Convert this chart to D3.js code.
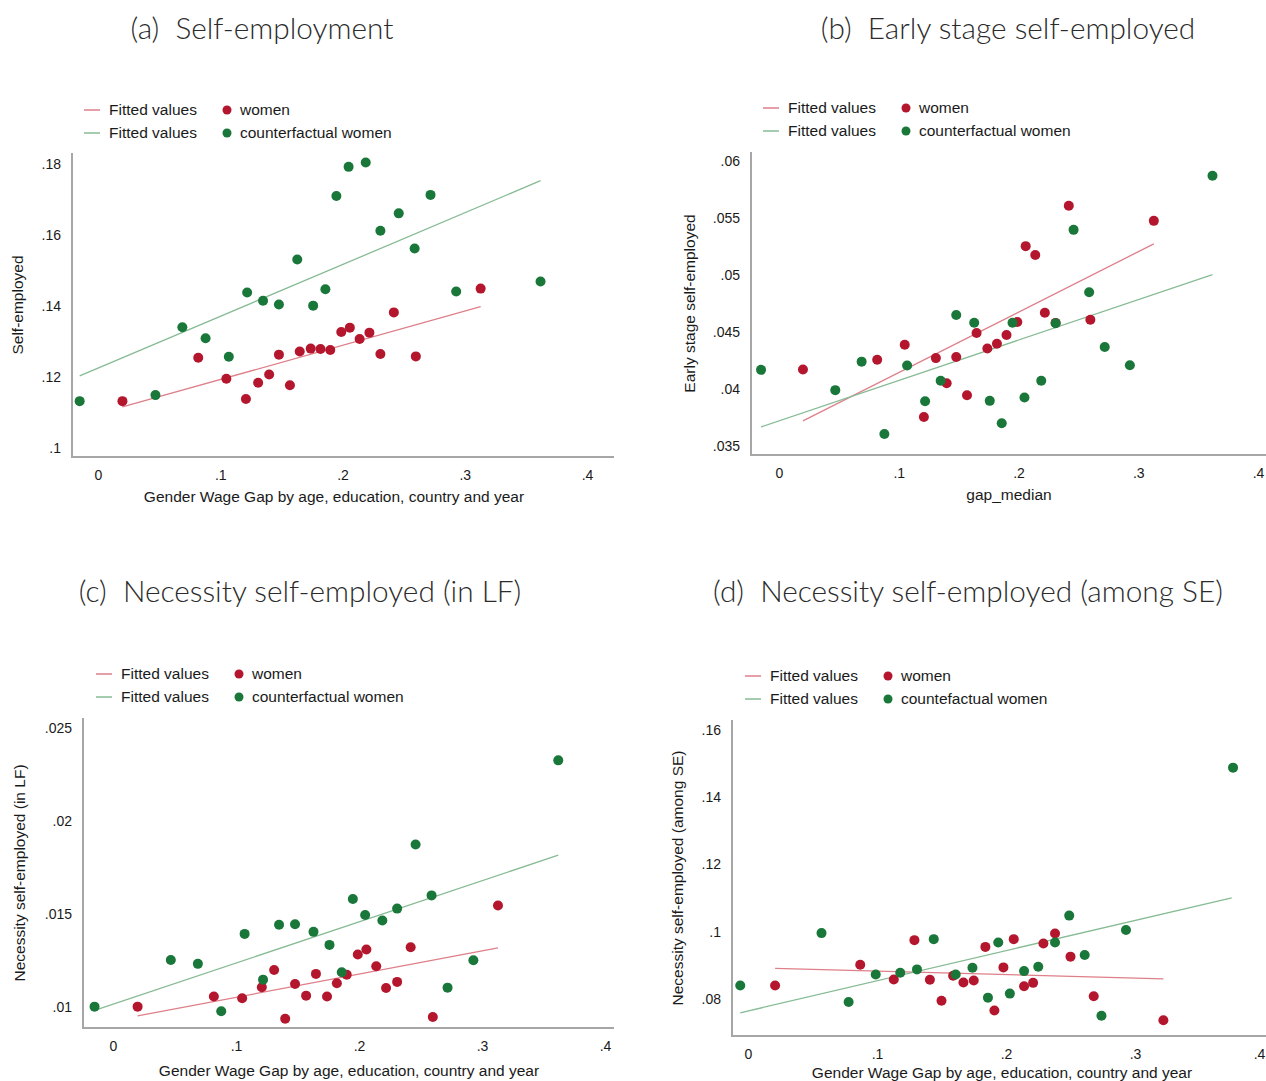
<!DOCTYPE html>
<html>
<head>
<meta charset="utf-8">
<script src="https://cdn.jsdelivr.net/npm/d3@7"></script>
<style>
  html, body { margin: 0; padding: 0; background: #fff; }
  svg { display: block; }
  .title { font-family: Lato, "Open Sans", sans-serif; font-weight: 300; font-size: 29.8px; fill: #2b2b2b; white-space: pre; }
  .tick text, .lab { font-family: "Liberation Sans", Arial, sans-serif; fill: #1a1a1a; }
</style>
</head>
<body>
<svg id="chart" width="1266" height="1081"></svg>
<script>
// Gender wage gap of each cell (x) for women and for counterfactual women
const gapWomen = [0.020, 0.082, 0.105, 0.121, 0.131, 0.140, 0.148, 0.157, 0.165, 0.174, 0.182, 0.190, 0.199, 0.206, 0.214, 0.222, 0.231, 0.242, 0.260, 0.313];
const gapCf    = [-0.015, 0.047, 0.069, 0.088, 0.107, 0.122, 0.135, 0.148, 0.163, 0.176, 0.186, 0.195, 0.205, 0.219, 0.231, 0.246, 0.259, 0.272, 0.293, 0.362];
const gapWomenD = [0.021, 0.087, 0.113, 0.129, 0.141, 0.150, 0.159, 0.167, 0.175, 0.184, 0.191, 0.198, 0.206, 0.214, 0.221, 0.229, 0.238, 0.250, 0.268, 0.322];
const gapCfD    = [-0.006, 0.057, 0.078, 0.099, 0.118, 0.131, 0.144, 0.161, 0.174, 0.186, 0.194, 0.203, 0.214, 0.225, 0.238, 0.249, 0.261, 0.274, 0.293, 0.376];

// (a) Self-employment
const aWomenY = [0.1132, 0.1254, 0.1195, 0.1138, 0.1184, 0.1207, 0.1263, 0.1177, 0.1272, 0.1280, 0.1279, 0.1276, 0.1327, 0.1339, 0.1307, 0.1325, 0.1265, 0.1382, 0.1258, 0.1449];
const aCfY    = [0.1132, 0.1149, 0.1340, 0.1309, 0.1257, 0.1438, 0.1415, 0.1404, 0.1531, 0.1401, 0.1447, 0.1710, 0.1792, 0.1804, 0.1612, 0.1661, 0.1562, 0.1713, 0.1441, 0.1469];
const aFitWomen = [[0.020, 0.1116], [0.313, 0.1398]];
const aFitCf    = [[-0.015, 0.1203], [0.362, 0.1753]];

// (b) Early stage self-employed
const bWomenY = [0.04171, 0.04256, 0.04388, 0.03755, 0.04271, 0.04051, 0.04280, 0.03945, 0.04491, 0.04356, 0.04397, 0.04473, 0.04587, 0.05253, 0.05176, 0.04669, 0.04580, 0.05607, 0.04608, 0.05475];
const bCfY    = [0.04168, 0.03990, 0.04240, 0.03605, 0.04206, 0.03893, 0.04072, 0.04649, 0.04581, 0.03896, 0.03699, 0.04581, 0.03925, 0.04072, 0.04576, 0.05396, 0.04848, 0.04368, 0.04209, 0.05871];
const bFitWomen = [[0.020, 0.03720], [0.313, 0.05273]];
const bFitCf    = [[-0.015, 0.03667], [0.362, 0.05004]];

// (c) Necessity self-employed (in LF)
const cWomenY = [0.01002, 0.01056, 0.01047, 0.01106, 0.01199, 0.00937, 0.01124, 0.01061, 0.01178, 0.01056, 0.01128, 0.01174, 0.01282, 0.01309, 0.01219, 0.01102, 0.01135, 0.01321, 0.00946, 0.01546];
const cCfY    = [0.01002, 0.01253, 0.01232, 0.00977, 0.01393, 0.01147, 0.01442, 0.01445, 0.01404, 0.01334, 0.01187, 0.01581, 0.01495, 0.01465, 0.01529, 0.01874, 0.01600, 0.01104, 0.01251, 0.02326];
const cFitWomen = [[0.020, 0.00952], [0.313, 0.01318]];
const cFitCf    = [[-0.015, 0.00982], [0.362, 0.01816]];

// (d) Necessity self-employed (among SE)
const dWomenY = [0.0840, 0.0902, 0.0858, 0.0975, 0.0857, 0.0795, 0.0869, 0.0849, 0.0855, 0.0955, 0.0766, 0.0894, 0.0978, 0.0838, 0.0848, 0.0965, 0.0995, 0.0926, 0.0808, 0.0737];
const dCfY    = [0.0840, 0.0996, 0.0791, 0.0873, 0.0878, 0.0888, 0.0978, 0.0873, 0.0893, 0.0804, 0.0968, 0.0816, 0.0883, 0.0896, 0.0968, 0.1048, 0.0931, 0.0750, 0.1005, 0.1488];
const dFitWomen = [[0.021, 0.0891], [0.322, 0.0860]];
const dFitCf    = [[-0.006, 0.0759], [0.375, 0.1101]];

// Tick values
const xTicks  = [0, 0.1, 0.2, 0.3, 0.4];
const aYTicks = [0.10, 0.12, 0.14, 0.16, 0.18];
const bYTicks = [0.035, 0.04, 0.045, 0.05, 0.055, 0.06];
const cYTicks = [0.01, 0.015, 0.02, 0.025];
const dYTicks = [0.08, 0.10, 0.12, 0.14, 0.16];

// Texts
const titles = ["(a)  Self-employment", "(b)  Early stage self-employed", "(c)  Necessity self-employed (in LF)", "(d)  Necessity self-employed (among SE)"];
const yTitles = ["Self-employed", "Early stage self-employed", "Necessity self-employed (in LF)", "Necessity self-employed (among SE)"];
const xTitles = ["Gender Wage Gap by age, education, country and year", "gap_median", "Gender Wage Gap by age, education, country and year", "Gender Wage Gap by age, education, country and year"];
const cfLabels = ["counterfactual women", "counterfactual women", "counterfactual women", "countefactual women"];

const RED = "#b4172d", GREEN = "#19773a";
const RED_LINE = "#de7f89", GREEN_LINE = "#86bb94";
const WIDTH = 1266;

// Panel geometry
const panels = [
  { title: titles[0], titleX: 262, titleY: 29, yTitle: yTitles[0], xTitle: xTitles[0], cf: cfLabels[0],
    xd: [0, 0.4], xr: [98, 587], yd: [0.10, 0.18], yr: [448, 164], frame: { l: 72, t: 153, b: 457, r: 614 },
    yTitleX: 18, xTitleX: 334, xTitleY: 502, leg: { x: 84, y: 110 },
    women: [gapWomen, aWomenY], cfp: [gapCf, aCfY], fitW: aFitWomen, fitC: aFitCf, yTicks: aYTicks },
  { title: titles[1], titleX: 1008, titleY: 29, yTitle: yTitles[1], xTitle: xTitles[1], cf: cfLabels[1],
    xd: [0, 0.4], xr: [779, 1258], yd: [0.035, 0.06], yr: [446, 161], frame: { l: 751, t: 152, b: 455, r: 1266 },
    yTitleX: 690, xTitleX: 1009, xTitleY: 500, leg: { x: 763, y: 108 },
    women: [gapWomen, bWomenY], cfp: [gapCf, bCfY], fitW: bFitWomen, fitC: bFitCf, yTicks: bYTicks },
  { title: titles[2], titleX: 300, titleY: 592, yTitle: yTitles[2], xTitle: xTitles[2], cf: cfLabels[2],
    xd: [0, 0.4], xr: [113, 605], yd: [0.01, 0.025], yr: [1007, 728], frame: { l: 83, t: 718, b: 1028, r: 614 },
    yTitleX: 20, xTitleX: 349, xTitleY: 1076, leg: { x: 96, y: 674 },
    women: [gapWomen, cWomenY], cfp: [gapCf, cCfY], fitW: cFitWomen, fitC: cFitCf, yTicks: cYTicks },
  { title: titles[3], titleX: 968, titleY: 592, yTitle: yTitles[3], xTitle: xTitles[3], cf: cfLabels[3],
    xd: [0, 0.4], xr: [748, 1264], yd: [0.08, 0.16], yr: [999, 730], frame: { l: 732, t: 720, b: 1036, r: 1266 },
    yTitleX: 678, xTitleX: 1002, xTitleY: 1078, leg: { x: 745, y: 676 },
    women: [gapWomenD, dWomenY], cfp: [gapCfD, dCfY], fitW: dFitWomen, fitC: dFitCf, yTicks: dYTicks }
];

const fmt = v => (v === 0 ? "0" : d3.format(".3~f")(v).replace(/^0\./, "."));

const svg = d3.select("#chart");

panels.forEach(p => {
  const g = svg.append("g");
  const x = d3.scaleLinear().domain(p.xd).range(p.xr);
  const y = d3.scaleLinear().domain(p.yd).range(p.yr);
  const f = p.frame;

  // Title
  g.append("text").attr("class", "title")
    .attr("x", p.titleX).attr("y", p.titleY).attr("dy", "0.35em")
    .attr("text-anchor", "middle").text(p.title);

  // Legend
  const L = p.leg;
  [[RED_LINE, RED, "women"], [GREEN_LINE, GREEN, p.cf]].forEach((it, i) => {
    const ly = L.y + i * 23;
    g.append("line").attr("x1", L.x).attr("x2", L.x + 16).attr("y1", ly).attr("y2", ly)
      .attr("stroke", it[0]).attr("stroke-width", 1.5);
    g.append("text").attr("class", "lab").attr("x", L.x + 25).attr("y", ly).attr("dy", "0.35em")
      .style("font-size", "15.5px").text("Fitted values");
    g.append("circle").attr("cx", L.x + 143).attr("cy", ly).attr("r", 4.5).attr("fill", it[1]);
    g.append("text").attr("class", "lab").attr("x", L.x + 156).attr("y", ly).attr("dy", "0.35em")
      .style("font-size", "15.5px").text(it[2]);
  });

  // Axes (labels only, no tick marks)
  const xa = g.append("g").attr("transform", `translate(0,${f.b})`)
    .call(d3.axisBottom(x).tickValues(xTicks).tickSize(0).tickPadding(13).tickFormat(fmt));
  xa.select(".domain").remove();
  xa.selectAll("text").style("font-size", "14px");
  // keep labels inside the page at the right edge
  xa.selectAll(".tick").each(function () {
    const t = d3.select(this).select("text");
    const box = this.getBBox();
    const m = this.getCTM();
    const right = m.e + box.x + box.width;
    if (right > WIDTH) t.attr("dx", WIDTH - right - 0.5);
  });

  const ya = g.append("g").attr("transform", `translate(${f.l},0)`)
    .call(d3.axisLeft(y).tickValues(p.yTicks).tickSize(0).tickPadding(11).tickFormat(fmt));
  ya.select(".domain").remove();
  ya.selectAll("text").style("font-size", "14px");

  // Frame lines
  g.append("path")
    .attr("d", `M${f.l},${f.t}V${f.b}H${f.r}`)
    .attr("fill", "none").attr("stroke", "#a6a6a6").attr("stroke-width", 2);

  // Axis titles
  g.append("text").attr("class", "lab")
    .attr("transform", `translate(${p.yTitleX},${(f.t + f.b) / 2}) rotate(-90)`)
    .attr("text-anchor", "middle").attr("dy", "0.35em")
    .style("font-size", "15.5px").text(p.yTitle);
  g.append("text").attr("class", "lab")
    .attr("x", p.xTitleX).attr("y", p.xTitleY)
    .attr("text-anchor", "middle")
    .style("font-size", "15.5px").text(p.xTitle);

  // Fitted lines
  const line = d3.line().x(d => x(d[0])).y(d => y(d[1]));
  g.append("path").datum(p.fitW).attr("d", line)
    .attr("fill", "none").attr("stroke", RED_LINE).attr("stroke-width", 1.3);
  g.append("path").datum(p.fitC).attr("d", line)
    .attr("fill", "none").attr("stroke", GREEN_LINE).attr("stroke-width", 1.3);

  // Points: women first, counterfactual women on top
  const wPts = p.women[0].map((v, i) => [v, p.women[1][i]]);
  const cPts = p.cfp[0].map((v, i) => [v, p.cfp[1][i]]);
  g.append("g").selectAll("circle").data(wPts).join("circle")
    .attr("cx", d => x(d[0])).attr("cy", d => y(d[1])).attr("r", 5).attr("fill", RED);
  g.append("g").selectAll("circle").data(cPts).join("circle")
    .attr("cx", d => x(d[0])).attr("cy", d => y(d[1])).attr("r", 5).attr("fill", GREEN);
});
</script>
</body>
</html>
